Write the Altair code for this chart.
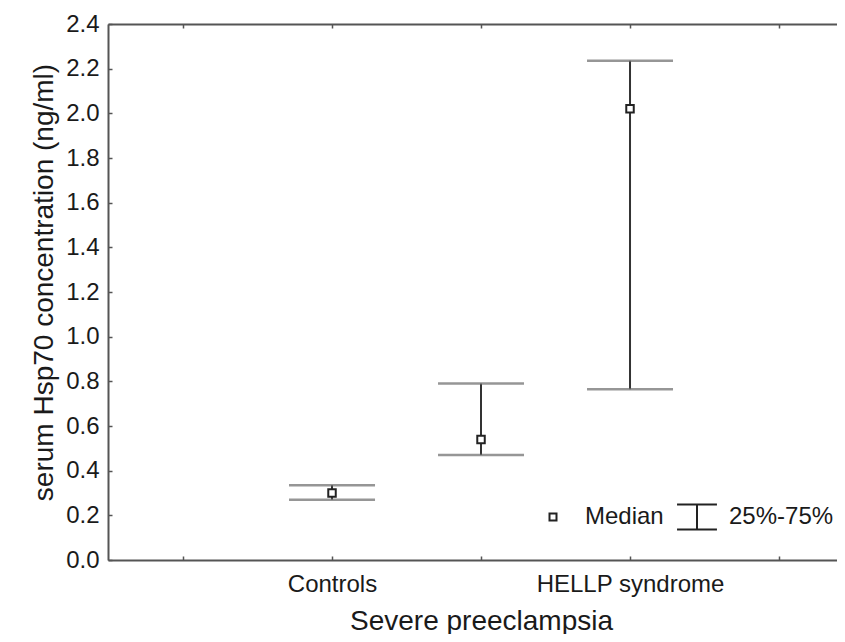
import altair as alt
import pandas as pd

# ---- data ----
slots = [" ", "Controls", "Severe preeclampsia", "HELLP syndrome", "  "]
groups = ["Controls", "Severe preeclampsia", "HELLP syndrome"]
medians = [0.30, 0.54, 2.02]
q1 = [0.27, 0.47, 0.765]
q3 = [0.335, 0.79, 2.235]
y_ticks = [0.0, 0.2, 0.4, 0.6, 0.8, 1.0, 1.2, 1.4, 1.6, 1.8, 2.0, 2.2, 2.4]
legend_items = ["Median", "25%-75%"]

df = pd.DataFrame({"group": groups, "median": medians, "q1": q1, "q3": q3,
                   "kind": [legend_items[0]] * len(groups)})

FONT = "Liberation Sans"
TXT = "#1a1a1a"
AX = "#555555"

xscale = alt.Scale(type="point", domain=slots, padding=0.4463, align=0.564)
yscale = alt.Scale(domain=[0, 2.4], nice=False, zero=True)

mid_test = "datum.value == '" + groups[1] + "'"
xaxis = alt.Axis(
    title=None, ticks=False, domain=True, domainColor=AX, domainWidth=2,
    grid=True, gridDash=[4, 528, 4, 2000], gridColor=AX, gridWidth=1.5, gridOpacity=1,
    labelAngle=0, labelOverlap=False, labelFlush=False, labelLimit=600,
    labelFont=FONT, labelColor=TXT,
    labelFontSize={"condition": {"test": mid_test, "value": 28}, "value": 24},
    labelPadding={"condition": {"test": mid_test, "value": 47}, "value": 12},
)
xaxis_top = alt.Axis(orient="top", title=None, labels=False, ticks=False, grid=False,
                     domain=True, domainColor=AX, domainWidth=2)
yaxis = alt.Axis(
    title="serum Hsp70 concentration (ng/ml)", values=y_ticks, format=".1f",
    ticks=False, domain=True, domainColor=AX, domainWidth=2,
    grid=True, gridDash=[4, 2000], gridColor=AX, gridWidth=1.5, gridOpacity=1,
    labelFont=FONT, labelFontSize=24, labelColor=TXT, labelPadding=9,
    titleFont=FONT, titleFontSize=28, titleFontWeight="normal", titleColor=TXT,
    titlePadding=7, titleY=258,
)


def X(axis):
    return alt.X("group:N", scale=xscale, axis=axis, sort=slots)


def Y(field):
    return alt.Y(field + ":Q", scale=yscale, axis=yaxis)


base = alt.Chart(df)

rule = base.mark_rule(color="#333333", strokeWidth=2).encode(
    x=X(xaxis), y=Y("q1"), y2="q3")
cap_lo = base.mark_tick(orient="horizontal", size=86, thickness=2.5, color="#6a6a6a").encode(
    x=X(xaxis), y=Y("q1"))
cap_hi = base.mark_tick(orient="horizontal", size=86, thickness=2.5, color="#6a6a6a").encode(
    x=X(xaxis_top), y=Y("q3"))

# white interior behind the hollow median squares
pts_bg = base.mark_square(color="white", size=56, opacity=1).encode(
    x=X(xaxis), y=Y("median"))

whisker_path = "M-5.7,-3.6H5.7M0,-3.6V3.6M-5.7,3.6H5.7"
pts = base.mark_point(filled=False, color="#222222", strokeWidth=2,
                      size=56, opacity=1).encode(
    x=X(xaxis), y=Y("median"),
    shape=alt.Shape("kind:N",
                    scale=alt.Scale(domain=legend_items, range=["square", whisker_path]),
                    legend=alt.Legend(title=None, orient="none", legendX=433, legendY=481,
                                      direction="horizontal", padding=0, gridAlign="none",
                                      symbolSize=49, symbolStrokeWidth=2,
                                      symbolStrokeColor="#222222",
                                      symbolOpacity=1,
                                      labelFont=FONT, labelFontSize=24, labelColor=TXT,
                                      labelOffset=20, columnPadding=9)),
)

inner = alt.layer(rule, cap_lo, pts_bg, pts)
chart = alt.layer(inner, cap_hi).resolve_axis(x="independent").properties(
    width=729, height=536,
    autosize=alt.AutoSizeParams(type="none"),
    padding={"left": 100, "top": 16, "right": 0, "bottom": 74},
).configure_view(strokeWidth=0).configure(background="white")

chart.save("out.html", embed_options={"renderer": "svg", "actions": False})
